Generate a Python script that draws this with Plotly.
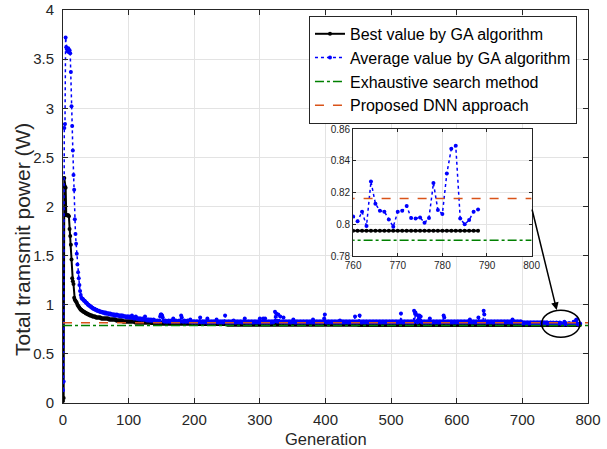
import plotly.graph_objects as go

# ---------------- data ----------------
avg_values = [
    0.13, 0.22, 2.80, 2.84, 3.72, 3.62, 3.60, 3.58, 3.61, 3.57,
    3.59, 3.56, 3.37, 3.02, 2.82, 2.57, 2.32, 2.17, 1.87, 1.72,
    1.62, 1.52, 1.41, 1.33, 1.27, 1.20, 1.14, 1.10, 1.07, 1.06,
    1.06, 1.05, 1.04, 1.04, 1.03, 1.02, 1.02, 1.01, 1.00, 1.00,
    0.99, 0.99, 0.98, 0.98, 0.97, 0.97, 0.96, 0.96, 0.96, 0.95,
    0.95, 0.95, 0.94, 0.94, 0.94, 0.94, 0.93, 0.93, 0.93, 0.93,
    0.92, 0.92, 0.92, 0.92, 0.91, 0.92, 0.91, 0.91, 0.91, 0.91,
    0.91, 0.90, 0.91, 0.90, 0.90, 0.90, 0.90, 0.90, 0.89, 0.90,
    0.89, 0.89, 0.90, 0.89, 0.89, 0.89, 0.89, 0.88, 0.89, 0.89,
    0.88, 0.89, 0.88, 0.88, 0.88, 0.88, 0.88, 0.87, 0.88, 0.88,
    0.87, 0.88, 0.87, 0.87, 0.87, 0.89, 0.87, 0.87, 0.86, 0.87,
    0.86, 0.88, 0.86, 0.86, 0.86, 0.86, 0.85, 0.86, 0.86, 0.85,
    0.85, 0.86, 0.85, 0.85, 0.85, 0.88, 0.85, 0.85, 0.84, 0.85,
    0.84, 0.85, 0.84, 0.84, 0.85, 0.84, 0.84, 0.84, 0.85, 0.84,
    0.83, 0.84, 0.83, 0.83, 0.84, 0.83, 0.83, 0.84, 0.88, 0.90, 0.90, 0.89, 0.87, 0.84, 0.83, 0.83, 0.84, 0.83, 0.83, 0.83,
    0.83, 0.84, 0.83, 0.83, 0.83, 0.84, 0.83, 0.83, 0.86, 0.83, 0.83, 0.83, 0.84, 0.83, 0.83, 0.83, 0.83, 0.84, 0.83, 0.83,
    0.89, 0.87, 0.83, 0.83, 0.83, 0.84, 0.83, 0.83, 0.83, 0.83, 0.84, 0.83, 0.83, 0.83, 0.85, 0.83, 0.83, 0.82, 0.83, 0.83,
    0.83, 0.83, 0.82, 0.83, 0.83, 0.83, 0.82, 0.83, 0.83, 0.87, 0.83, 0.82, 0.83, 0.83, 0.83, 0.82, 0.83, 0.83, 0.83, 0.82,
    0.86, 0.83, 0.82, 0.83, 0.83, 0.82, 0.83, 0.83, 0.82, 0.83, 0.83, 0.82, 0.83, 0.83, 0.85, 0.83, 0.82, 0.83, 0.82, 0.83,
    0.83, 0.82, 0.83, 0.83, 0.82, 0.83, 0.83, 0.89, 0.83, 0.82, 0.83, 0.82, 0.83, 0.83, 0.82, 0.83, 0.82, 0.83, 0.83, 0.82,
    0.84, 0.83, 0.82, 0.83, 0.82, 0.83, 0.83, 0.82, 0.83, 0.82, 0.83, 0.83, 0.82, 0.83, 0.82, 0.83, 0.83, 0.86, 0.83, 0.82,
    0.83, 0.82, 0.83, 0.83, 0.82, 0.83, 0.82, 0.83, 0.83, 0.82, 0.83, 0.82, 0.83, 0.83, 0.82, 0.83, 0.82, 0.83, 0.83, 0.82,
    0.86, 0.83, 0.82, 0.83, 0.82, 0.86, 0.83, 0.82, 0.86, 0.83, 0.82, 0.83, 0.82, 0.83, 0.83, 0.82, 0.83, 0.82, 0.83, 0.83,
    0.82, 0.83, 0.83, 0.93, 0.84, 0.91, 0.83, 0.83, 0.90, 0.83, 0.83, 0.88, 0.83, 0.82, 0.83, 0.83, 0.87, 0.83, 0.82, 0.83,
    0.83, 0.82, 0.83, 0.82, 0.83, 0.83, 0.82, 0.83, 0.82, 0.83, 0.83, 0.85, 0.83, 0.82, 0.83, 0.82, 0.83, 0.83, 0.82, 0.83,
    0.82, 0.83, 0.83, 0.82, 0.83, 0.82, 0.83, 0.83, 0.82, 0.83, 0.82, 0.83, 0.83, 0.82, 0.83, 0.82, 0.83, 0.83, 0.82, 0.83,
    0.82, 0.85, 0.83, 0.82, 0.83, 0.82, 0.83, 0.83, 0.82, 0.83, 0.82, 0.83, 0.83, 0.82, 0.83, 0.82, 0.83, 0.83, 0.86, 0.90,
    0.83, 0.82, 0.83, 0.82, 0.83, 0.83, 0.82, 0.83, 0.82, 0.83, 0.83, 0.82, 0.83, 0.82, 0.83, 0.83, 0.82, 0.83, 0.82, 0.83,
    0.83, 0.82, 0.84, 0.82, 0.83, 0.82, 0.83, 0.83, 0.82, 0.83, 0.82, 0.83, 0.83, 0.82, 0.83, 0.82, 0.83, 0.83, 0.82, 0.83,
    0.82, 0.83, 0.83, 0.82, 0.83, 0.88, 0.83, 0.82, 0.83, 0.82, 0.83, 0.83, 0.89, 0.83, 0.82, 0.83, 0.82, 0.83, 0.83, 0.82,
    0.83, 0.82, 0.83, 0.83, 0.82, 0.83, 0.82, 0.83, 0.83, 0.82, 0.83, 0.82, 0.83, 0.83, 0.82, 0.83, 0.82, 0.83, 0.83, 0.82,
    0.83, 0.82, 0.83, 0.83, 0.82, 0.83, 0.82, 0.83, 0.83, 0.82, 0.83, 0.82, 0.83, 0.83, 0.82, 0.83, 0.82, 0.83, 0.83, 0.82,
    0.83, 0.82, 0.83, 0.83, 0.82, 0.83, 0.82, 0.83, 0.83, 0.82, 0.83, 0.82, 0.83, 0.83, 0.82, 0.91, 0.83, 0.82, 0.83, 0.82,
    0.83, 0.83, 0.82, 0.83, 0.82, 0.83, 0.83, 0.82, 0.83, 0.82, 0.83, 0.83, 0.82, 0.83, 0.82, 0.94, 0.83, 0.92, 0.90, 0.83,
    0.82, 0.89, 0.83, 0.89, 0.83, 0.88, 0.83, 0.82, 0.83, 0.82, 0.83, 0.83, 0.82, 0.83, 0.82, 0.83, 0.83, 0.82, 0.83, 0.86,
    0.83, 0.82, 0.83, 0.82, 0.83, 0.83, 0.82, 0.83, 0.82, 0.83, 0.83, 0.82, 0.83, 0.82, 0.83, 0.83, 0.82, 0.83, 0.82, 0.83,
    0.89, 0.87, 0.83, 0.82, 0.83, 0.82, 0.83, 0.83, 0.82, 0.83, 0.82, 0.83, 0.83, 0.82, 0.83, 0.82, 0.83, 0.83, 0.82, 0.83,
    0.82, 0.83, 0.83, 0.82, 0.83, 0.82, 0.83, 0.83, 0.82, 0.83, 0.82, 0.83, 0.83, 0.82, 0.83, 0.82, 0.83, 0.83, 0.82, 0.83,
    0.85, 0.83, 0.82, 0.83, 0.82, 0.83, 0.83, 0.82, 0.83, 0.82, 0.83, 0.83, 0.82, 0.87, 0.83, 0.82, 0.83, 0.82, 0.83, 0.83,
    0.82, 0.94, 0.90, 0.83, 0.82, 0.83, 0.82, 0.83, 0.83, 0.82, 0.83, 0.82, 0.83, 0.83, 0.82, 0.83, 0.82, 0.83, 0.83, 0.82,
    0.83, 0.82, 0.83, 0.83, 0.82, 0.83, 0.82, 0.83, 0.83, 0.82, 0.83, 0.82, 0.83, 0.83, 0.82, 0.83, 0.82, 0.83, 0.83, 0.82,
    0.83, 0.82, 0.83, 0.83, 0.82, 0.85, 0.82, 0.83, 0.83, 0.82, 0.83, 0.82, 0.83, 0.83, 0.82, 0.83, 0.82, 0.83, 0.83, 0.82,
    0.82, 0.81, 0.82, 0.82, 0.81, 0.82, 0.81, 0.82, 0.82, 0.81, 0.82, 0.81, 0.82, 0.82, 0.81, 0.82, 0.81, 0.82, 0.82, 0.81,
    0.82, 0.81, 0.82, 0.82, 0.81, 0.82, 0.81, 0.82, 0.82, 0.81, 0.82, 0.81, 0.82, 0.82, 0.81, 0.82, 0.81, 0.82, 0.82, 0.81,
    0.815, 0.81, 0.815, 0.82, 0.81, 0.815, 0.81, 0.82, 0.815, 0.81, 0.815, 0.81, 0.82, 0.815, 0.81, 0.815, 0.81, 0.82, 0.815, 0.81,
    0.805, 0.802, 0.808, 0.799, 0.827, 0.813, 0.8085, 0.808, 0.803, 0.7985,
    0.808, 0.8085, 0.8115, 0.804, 0.8037, 0.8043, 0.801, 0.804, 0.826, 0.809,
    0.8065, 0.832, 0.8476, 0.8495, 0.8037, 0.800, 0.8027, 0.808, 0.8094,
]

best_values = [
    0.02, 0.05, 2.29, 2.20, 2.19, 1.91, 1.91, 1.91, 1.91, 1.90,
    1.77, 1.70, 1.61, 1.46, 1.27, 1.24, 1.21, 1.07, 1.05, 1.04,
    1.03, 1.02, 1.00, 0.99, 0.98, 0.97, 0.96, 0.95, 0.95, 0.94,
    0.94, 0.93, 0.93, 0.92, 0.92, 0.91, 0.91, 0.91, 0.90, 0.90,
    0.90, 0.89, 0.89, 0.89, 0.89, 0.88, 0.88, 0.88, 0.88, 0.88,
    0.87, 0.87, 0.87, 0.87, 0.87, 0.87, 0.87, 0.87, 0.86, 0.86,
    0.86, 0.86, 0.86, 0.86, 0.86, 0.86, 0.86, 0.86, 0.86, 0.86,
    0.85, 0.85, 0.85, 0.85, 0.85, 0.85, 0.85, 0.85, 0.85, 0.85,
    0.85, 0.84, 0.84, 0.84, 0.84, 0.84, 0.84, 0.84, 0.84, 0.84,
    0.84, 0.83, 0.83, 0.83, 0.83, 0.83, 0.83, 0.83, 0.83, 0.83,
    0.83, 0.83, 0.83, 0.83, 0.83, 0.83, 0.83, 0.83, 0.83, 0.83,
    0.82, 0.82, 0.82, 0.82, 0.82, 0.82, 0.82, 0.82, 0.82, 0.82,
    0.82, 0.82, 0.82, 0.82, 0.82, 0.82, 0.82, 0.82, 0.82, 0.82,
    0.82, 0.82, 0.82, 0.82, 0.82, 0.815, 0.815, 0.815, 0.815, 0.815,
    0.815, 0.815, 0.815, 0.815, 0.815, 0.815, 0.815, 0.815, 0.815, 0.815,
    0.81, 0.81, 0.81, 0.81, 0.81, 0.81, 0.81, 0.81, 0.81, 0.81,
    0.81, 0.81, 0.81, 0.81, 0.81, 0.81, 0.81, 0.81, 0.81, 0.81,
    0.81, 0.81, 0.81, 0.81, 0.81, 0.81, 0.81, 0.81, 0.81, 0.81,
    0.81, 0.81, 0.81, 0.81, 0.81, 0.81, 0.81, 0.81, 0.81, 0.81,
    0.81, 0.81, 0.81, 0.81, 0.81, 0.81, 0.81, 0.81, 0.81, 0.81,
    0.805, 0.805, 0.805, 0.805, 0.805, 0.805, 0.805, 0.805, 0.805, 0.805,
    0.805, 0.805, 0.805, 0.805, 0.805, 0.805, 0.805, 0.805, 0.805, 0.805,
    0.805, 0.805, 0.805, 0.805, 0.805, 0.805, 0.805, 0.805, 0.805, 0.805,
    0.805, 0.805, 0.805, 0.805, 0.805, 0.805, 0.805, 0.805, 0.805, 0.805,
    0.805, 0.805, 0.805, 0.805, 0.805, 0.805, 0.805, 0.805, 0.805, 0.805,
    0.80, 0.80, 0.80, 0.80, 0.80, 0.80, 0.80, 0.80, 0.80, 0.80, 0.80, 0.80, 0.80, 0.80, 0.80, 0.80, 0.80, 0.80, 0.80, 0.80,
    0.80, 0.80, 0.80, 0.80, 0.80, 0.80, 0.80, 0.80, 0.80, 0.80, 0.80, 0.80, 0.80, 0.80, 0.80, 0.80, 0.80, 0.80, 0.80, 0.80,
    0.80, 0.80, 0.80, 0.80, 0.80, 0.80, 0.80, 0.80, 0.80, 0.80, 0.80, 0.80, 0.80, 0.80, 0.80, 0.80, 0.80, 0.80, 0.80, 0.80,
    0.80, 0.80, 0.80, 0.80, 0.80, 0.80, 0.80, 0.80, 0.80, 0.80, 0.80, 0.80, 0.80, 0.80, 0.80, 0.80, 0.80, 0.80, 0.80, 0.80,
    0.80, 0.80, 0.80, 0.80, 0.80, 0.80, 0.80, 0.80, 0.80, 0.80, 0.80, 0.80, 0.80, 0.80, 0.80, 0.80, 0.80, 0.80, 0.80, 0.80,
    0.80, 0.80, 0.80, 0.80, 0.80, 0.80, 0.80, 0.80, 0.80, 0.80, 0.80, 0.80, 0.80, 0.80, 0.80, 0.80, 0.80, 0.80, 0.80, 0.80,
    0.80, 0.80, 0.80, 0.80, 0.80, 0.80, 0.80, 0.80, 0.80, 0.80, 0.80, 0.80, 0.80, 0.80, 0.80, 0.80, 0.80, 0.80, 0.80, 0.80,
    0.80, 0.80, 0.80, 0.80, 0.80, 0.80, 0.80, 0.80, 0.80, 0.80, 0.80, 0.80, 0.80, 0.80, 0.80, 0.80, 0.80, 0.80, 0.80, 0.80,
    0.80, 0.80, 0.80, 0.80, 0.80, 0.80, 0.80, 0.80, 0.80, 0.80, 0.80, 0.80, 0.80, 0.80, 0.80, 0.80, 0.80, 0.80, 0.80, 0.80,
    0.80, 0.80, 0.80, 0.80, 0.80, 0.80, 0.80, 0.80, 0.80, 0.80, 0.80, 0.80, 0.80, 0.80, 0.80, 0.80, 0.80, 0.80, 0.80, 0.80,
    0.796, 0.796, 0.796, 0.796, 0.796, 0.796, 0.796, 0.796, 0.796, 0.796, 0.796, 0.796, 0.796, 0.796, 0.796, 0.796, 0.796, 0.796, 0.796, 0.796,
    0.796, 0.796, 0.796, 0.796, 0.796, 0.796, 0.796, 0.796, 0.796, 0.796, 0.796, 0.796, 0.796, 0.796, 0.796, 0.796, 0.796, 0.796, 0.796, 0.796,
    0.796, 0.796, 0.796, 0.796, 0.796, 0.796, 0.796, 0.796, 0.796, 0.796, 0.796, 0.796, 0.796, 0.796, 0.796, 0.796, 0.796, 0.796, 0.796, 0.796,
    0.796, 0.796, 0.796, 0.796, 0.796, 0.796, 0.796, 0.796, 0.796, 0.796, 0.796, 0.796, 0.796, 0.796, 0.796, 0.796, 0.796, 0.796, 0.796, 0.796,
    0.796, 0.796, 0.796, 0.796, 0.796, 0.796, 0.796, 0.796, 0.796, 0.796, 0.796, 0.796, 0.796, 0.796, 0.796, 0.796, 0.796, 0.796, 0.796, 0.796,
    0.796, 0.796, 0.796, 0.796, 0.796, 0.796, 0.796, 0.796, 0.796, 0.796, 0.796, 0.796, 0.796, 0.796, 0.796, 0.796, 0.796, 0.796, 0.796, 0.796,
    0.796, 0.796, 0.796, 0.796, 0.796, 0.796, 0.796, 0.796, 0.796, 0.796, 0.796, 0.796, 0.796, 0.796, 0.796, 0.796, 0.796, 0.796, 0.796, 0.796,
    0.796, 0.796, 0.796, 0.796, 0.796, 0.796, 0.796, 0.796, 0.796, 0.796, 0.796, 0.796, 0.796, 0.796, 0.796, 0.796, 0.796, 0.796, 0.796, 0.796,
    0.796, 0.796, 0.796, 0.796, 0.796, 0.796, 0.796, 0.796, 0.796, 0.796, 0.796, 0.796, 0.796, 0.796, 0.796, 0.796, 0.796, 0.796, 0.796, 0.796,
    0.796, 0.796, 0.796, 0.796, 0.796, 0.796, 0.796, 0.796, 0.796, 0.796, 0.796, 0.796, 0.796, 0.796, 0.796, 0.796, 0.796, 0.796, 0.796, 0.796,
    0.796, 0.796, 0.796, 0.796, 0.796, 0.796, 0.796, 0.796, 0.796, 0.796, 0.796, 0.796, 0.796, 0.796, 0.796, 0.796, 0.796, 0.796, 0.796, 0.796,
    0.796, 0.796, 0.796, 0.796, 0.796, 0.796, 0.796, 0.796, 0.796, 0.796, 0.796, 0.796, 0.796, 0.796, 0.796, 0.796, 0.796, 0.796, 0.796, 0.796,
    0.796, 0.796, 0.796, 0.796, 0.796, 0.796, 0.796, 0.796, 0.796, 0.796, 0.796, 0.796, 0.796, 0.796, 0.796, 0.796, 0.796, 0.796, 0.796, 0.796,
    0.796, 0.796, 0.796, 0.796, 0.796, 0.796, 0.796, 0.796, 0.796, 0.796, 0.796, 0.796, 0.796, 0.796, 0.796, 0.796, 0.796, 0.796, 0.796, 0.796,
    0.796, 0.796, 0.796, 0.796, 0.796, 0.796, 0.796, 0.796, 0.796, 0.796, 0.796, 0.796, 0.796, 0.796, 0.796, 0.796, 0.796, 0.796, 0.796, 0.796,
    0.796, 0.796, 0.796, 0.796, 0.796, 0.796, 0.796, 0.796, 0.796, 0.796, 0.796, 0.796, 0.796, 0.796, 0.796, 0.796, 0.796, 0.796, 0.796, 0.796,
    0.796, 0.796, 0.796, 0.796, 0.796, 0.796, 0.796, 0.796, 0.796, 0.796, 0.796, 0.796, 0.796, 0.796, 0.796, 0.796, 0.796, 0.796, 0.796,
]

exhaustive_value = 0.790
dnn_value = 0.8163

x_ticks = [0, 100, 200, 300, 400, 500, 600, 700, 800]
y_ticks = [0, 0.5, 1, 1.5, 2, 2.5, 3, 3.5, 4]
y_ticklabels = ["0", "0.5", "1", "1.5", "2", "2.5", "3", "3.5", "4"]
inset_x_ticks = [760, 770, 780, 790, 800]
inset_y_ticks = [0.78, 0.80, 0.82, 0.84, 0.86]
inset_y_ticklabels = ["0.78", "0.8", "0.82", "0.84", "0.86"]

gens_avg = list(range(len(avg_values)))
gens_best = list(range(len(best_values)))
assert len(avg_values) == 789, len(avg_values)
assert len(best_values) == 789, len(best_values)

# ---------------- styling ----------------
FONT = "Liberation Sans, Arial, Helvetica, sans-serif"
AX = "#262626"
GRID = "#e3e3e3"
BLUE = "#0000ff"
GREEN = "#008000"
ORANGE = "#d95319"

fig = go.Figure()

for xa, ya, show in (("x", "y", True), ("x2", "y2", False)):
    fig.add_trace(go.Scatter(
        x=gens_best, y=best_values, mode="lines+markers",
        name="Best value by GA algorithm", showlegend=show,
        line=dict(color="black", width=2), marker=dict(color="black", size=4),
        xaxis=xa, yaxis=ya))
    fig.add_trace(go.Scatter(
        x=gens_avg, y=avg_values, mode="lines+markers",
        name="Average value by GA algorithm", showlegend=show,
        line=dict(color=BLUE, width=1.5, dash="dot"), marker=dict(color=BLUE, size=4),
        xaxis=xa, yaxis=ya))
    fig.add_trace(go.Scatter(
        x=[0, 800], y=[exhaustive_value, exhaustive_value], mode="lines",
        name="Exhaustive search method", showlegend=show,
        line=dict(color=GREEN, width=1.5, dash="dashdot"),
        xaxis=xa, yaxis=ya))
    fig.add_trace(go.Scatter(
        x=[0, 800], y=[dnn_value, dnn_value], mode="lines",
        name="Proposed DNN approach", showlegend=show,
        line=dict(color=ORANGE, width=1.5, dash="dash"),
        xaxis=xa, yaxis=ya))

common = dict(showline=True, linecolor=AX, linewidth=1, mirror="ticks",
              ticks="inside", tickcolor=AX, showgrid=True, gridcolor=GRID,
              zeroline=False, automargin=False, ticklabeloverflow="allow")

fig.update_layout(
    width=607, height=449,
    margin=dict(l=63, r=19, t=10, b=46),
    paper_bgcolor="white", plot_bgcolor="white",
    font=dict(family=FONT, color=AX),
    xaxis=dict(domain=[0, 1], range=[0, 800], tickvals=x_ticks, ticklen=5,
               tickfont=dict(size=15), anchor="y", ticklabelstandoff=3, **common),
    yaxis=dict(domain=[0, 1], range=[0, 4], tickvals=y_ticks, ticktext=y_ticklabels,
               ticklen=5, tickfont=dict(size=15), anchor="x", ticklabelstandoff=5,
               **common),
    xaxis2=dict(domain=[0.5526, 0.8926], range=[760, 800], tickvals=inset_x_ticks,
                ticklen=3, tickfont=dict(size=10), anchor="y2", **common),
    yaxis2=dict(domain=[0.374, 0.6967], range=[0.78, 0.86], tickvals=inset_y_ticks,
                ticktext=inset_y_ticklabels, ticklen=3, tickfont=dict(size=10),
                anchor="x2", **common),
    legend=dict(x=0.979, y=0.985, xanchor="right", yanchor="top",
                bgcolor="white", bordercolor=AX, borderwidth=1,
                font=dict(size=16, color="black"), tracegroupgap=0),
    showlegend=True,
)

# axis titles
fig.add_annotation(text="Generation", xref="paper", yref="paper", x=0.5, y=-0.0916,
                   xanchor="center", yanchor="middle", showarrow=False,
                   font=dict(size=16.5, color=AX))
fig.add_annotation(text="Total tramsmit power (W)", xref="paper", yref="paper",
                   x=-0.076, y=0.415, xanchor="center", yanchor="middle", textangle=-90,
                   showarrow=False, font=dict(size=21, color=AX))

# ellipse highlighting the zoomed region
fig.add_shape(type="circle", xref="x", yref="y", x0=729.4, x1=787.8, y0=0.668, y1=0.944,
              line=dict(color="black", width=1.5), layer="above")

# arrow from inset corner to ellipse
fig.add_annotation(x=752.3, y=0.947, xref="x", yref="y", ax=-25, ay=-102,
                   showarrow=True, arrowhead=2, arrowsize=1, arrowwidth=1.5,
                   arrowcolor="black", text="")

fig.write_html("out.html", config={"displayModeBar": False},
               post_script="document.body.style.margin='0';")
